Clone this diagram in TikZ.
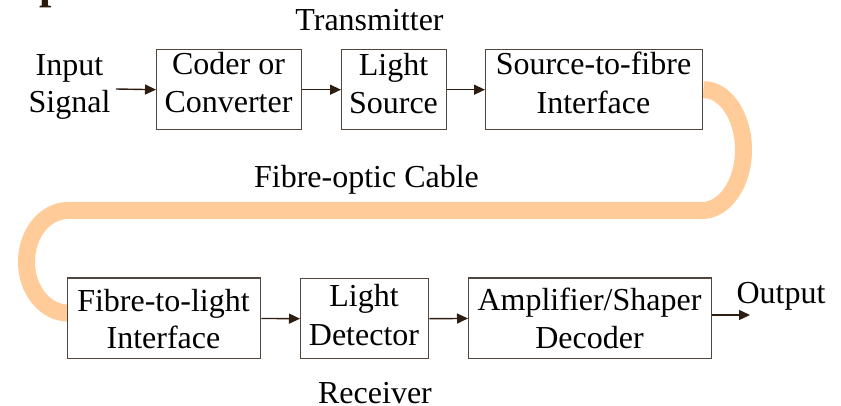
\documentclass[tikz,border=0pt]{standalone}
\usepackage{fontspec}
\setmainfont{Liberation Serif}
\usetikzlibrary{arrows.meta,backgrounds}
\definecolor{boxline}{HTML}{50463E}
\definecolor{arrowc}{HTML}{2E1E12}
\definecolor{fibre}{HTML}{FFCC99}
\definecolor{titlec}{HTML}{2A1A0C}
\begin{document}
\begin{tikzpicture}[x=1pt,y=-1pt,
  box/.style={draw=boxline, line width=1.4pt, fill=white, inner sep=0pt, anchor=north west},
  txt/.style={font=\fontsize{32}{38}\selectfont, inner sep=0pt, anchor=base},
  arr/.style={draw=arrowc, line width=1.4pt, -{Triangle[length=11pt,width=10pt]}},
  cable/.style={draw=fibre, line width=17pt}]
\useasboundingbox (0,0) rectangle (841,406);

% title fragment (cut off at the top)
\node[font=\bfseries\fontsize{44}{50}\selectfont, text=titlec, anchor=base west, inner sep=0pt] (ttl) at (39,-1.5) {p};

% boxes
\node[box, minimum width=145pt, minimum height=80pt] (b1) at (156,49) {};
\node[box, minimum width=105pt, minimum height=80pt] (b2) at (341,49) {};
\node[box, minimum width=217pt, minimum height=80pt] (b3) at (485,49) {};
\node[box, minimum width=193pt, minimum height=80.5pt] (b4) at (67,277.5) {};
\node[box, minimum width=128pt, minimum height=80pt] (b5) at (300,278) {};
\node[box, minimum width=243pt, minimum height=80.5pt] (b6) at (468,277.5) {};

% texts
\node[txt] (tx) at (369.5,31) {Transmitter};
\node[txt] (inp1) at (69.5,76) {Input};
\node[txt] (inp2) at (69.5,113) {Signal};
\node[txt] (t1a) at (228.5,75) {Coder or};
\node[txt] (t1b) at (228.5,113) {Converter};
\node[txt] (t2a) at (393.5,76) {Light};
\node[txt] (t2b) at (393.5,114) {Source};
\node[txt] (t3a) at (593.5,75) {Source-to-fibre};
\node[txt] (t3b) at (593.5,114) {Interface};
\node[txt] (fc) at (366.5,188) {Fibre-optic Cable};
\node[txt] (t4a) at (163.5,311.5) {Fibre-to-light};
\node[txt] (t4b) at (163.5,348.5) {Interface};
\node[txt] (t5a) at (364,306) {Light};
\node[txt] (t5b) at (364,345) {Detector};
\node[txt] (t6a) at (589.5,310) {Amplifier/Shaper};
\node[txt] (t6b) at (589.5,348) {Decoder};
\node[txt] (outt) at (781,303) {Output};
\node[txt] (rx) at (375,403) {Receiver};

% connectors
\coordinate (ina) at (116,89);
\coordinate (outa) at (750,315);
\draw[arr] (ina) -- (b1.west);
\draw[arr] (b1.east) -- (b2.west);
\draw[arr] (b2.east) -- (b3.west);
\draw[arr] (b4.east) -- (b5.west);
\draw[arr] (b5.east) -- (b6.west);
\draw[arr] (b6.east |- outa) -- (outa);

% fibre-optic cable
\begin{scope}[on background layer]
\draw[cable] (b3.east) .. controls (724.9,89) and (743.5,116.2) .. (743.5,149.75)
  .. controls (743.5,183.3) and (724.9,210.5) .. (702,210.5)
  -- (68,210.5)
  .. controls (45.1,210.5) and (26.5,233.45) .. (26.5,261.75)
  .. controls (26.5,290.05) and (45.1,313) .. (68,313);
\end{scope}
\end{tikzpicture}
\end{document}
